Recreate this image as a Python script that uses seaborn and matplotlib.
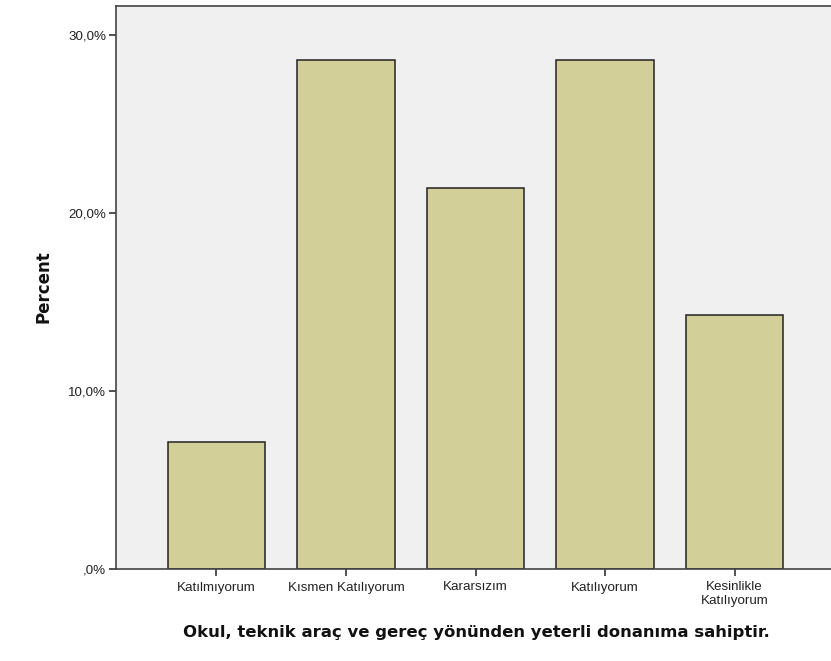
import matplotlib
matplotlib.use("Agg")
import matplotlib.pyplot as plt
import seaborn as sns
import pandas as pd
from matplotlib.ticker import FixedLocator

categories = ["Katılmıyorum", "Kısmen Katılıyorum", "Kararsızım", "Katılıyorum", "Kesinlikle\nKatılıyorum"]
percents = [7.14, 28.57, 21.43, 28.57, 14.29]
y_ticks = [0, 10, 20, 30]
y_tick_labels = [",0%", "10,0%", "20,0%", "30,0%"]
x_title = "Okul, teknik araç ve gereç yönünden yeterli donanıma sahiptir."
y_title = "Percent"

df = pd.DataFrame({"cat": categories, "pct": percents})

sns.set_style("white")
plt.rcParams["font.family"] = ["Liberation Sans", "DejaVu Sans"]

fig = plt.figure(figsize=(8.31, 6.61), dpi=100)
ax = fig.add_axes([116/831, 1-569/661, 1-116/831, (569-6)/661])
ax.set_facecolor("#f0f0f0")

sns.barplot(data=df, x="cat", y="pct", color="#d3cf98", saturation=1,
            edgecolor="#222222", linewidth=1.1, width=0.75, ax=ax)

ax.set_xlim(-0.776, 4.745)
ax.set_ylim(0, 31.63)
ax.yaxis.set_major_locator(FixedLocator(y_ticks))
ax.set_yticklabels(y_tick_labels, fontsize=9.6, color="#222222")
ax.set_xticks(range(len(categories)))
ax.set_xticklabels(categories, fontsize=9.6, color="#222222", linespacing=1.15)
ax.tick_params(axis="both", which="major", bottom=True, left=True, direction="out",
               length=5, width=1.2, color="#333333", pad=2)
ax.tick_params(axis="x", pad=4)

for s in ["left", "bottom", "top"]:
    ax.spines[s].set_visible(True)
    ax.spines[s].set_color("#444444")
    ax.spines[s].set_linewidth(1.2)
ax.spines["right"].set_visible(False)

ax.set_xlabel("")
ax.set_ylabel("")
fig.text(476/831, 1-633/661, x_title, ha="center", va="center",
         fontsize=11.85, fontweight="bold", family=["DejaVu Sans"], color="#111111")
fig.text(43/831, 1-287/661, y_title, ha="center", va="center", rotation=90,
         fontsize=12, fontweight="bold", family=["DejaVu Sans"], color="#111111")

fig.savefig("out.png", dpi=100, facecolor="white")
